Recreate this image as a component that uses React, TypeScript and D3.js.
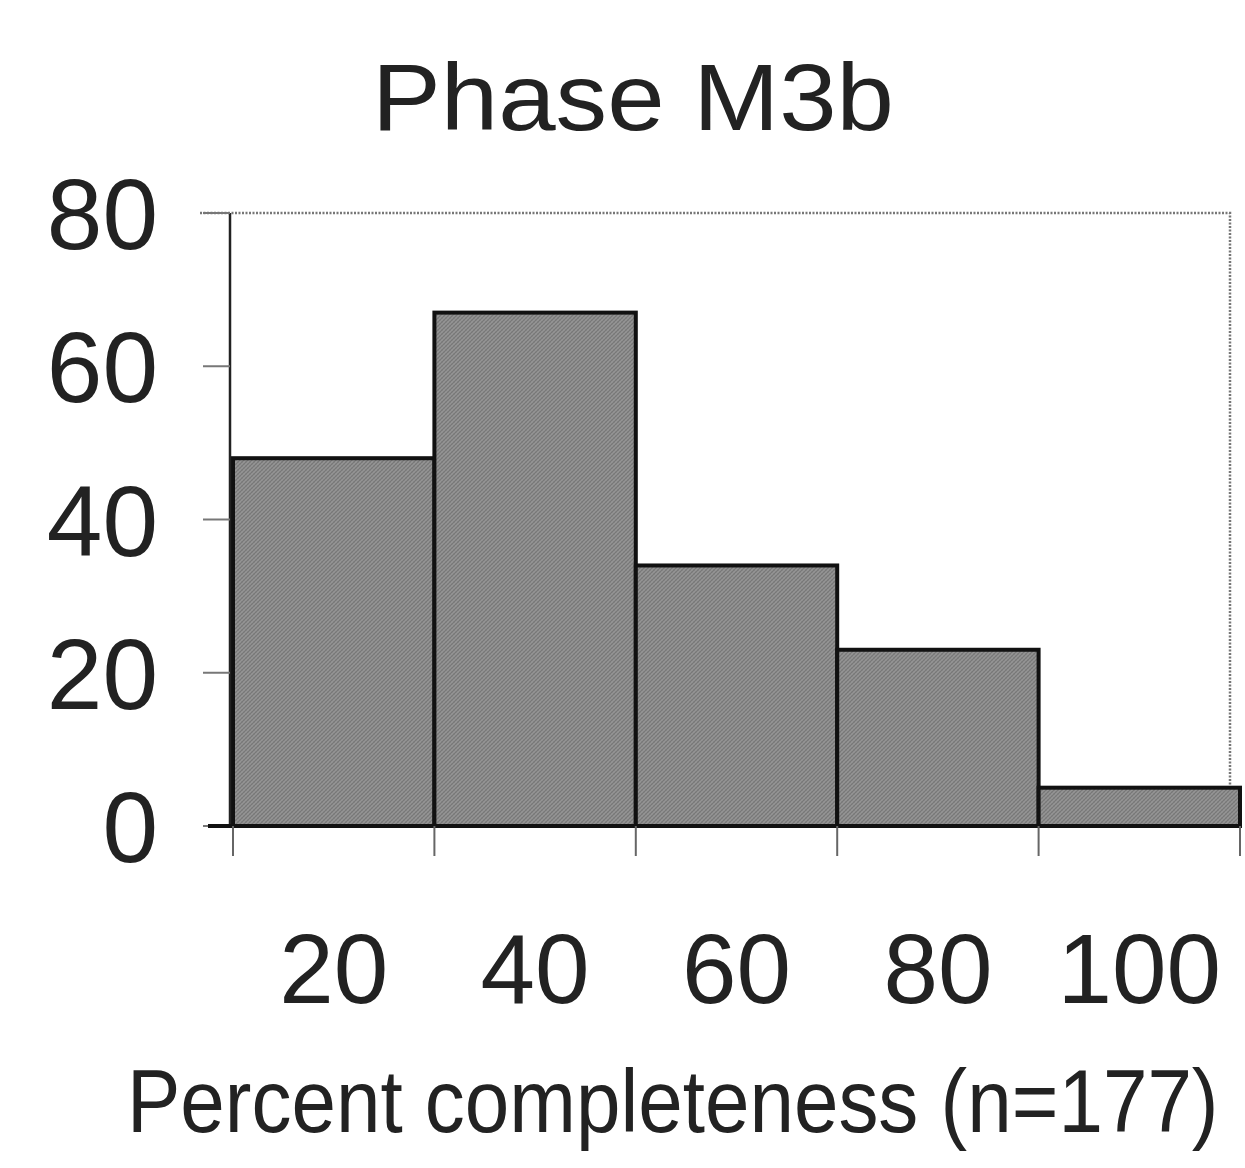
import * as d3 from "d3";
import { useEffect, useRef } from "react";

// data
const binLabels = ["20", "40", "60", "80", "100"];
const counts = [48, 67, 34, 23, 5];
const yTicks = [0, 20, 40, 60, 80];
const titleText = "Phase M3b";
const xTitle = "Percent completeness (n=177)";

const W = 1245;
const H = 1168;

const App = () => {
  const chartRef = useRef<SVGSVGElement>(null);

  // plot area
  const margin = { top: 213, bottom: H - 826, left: 230, right: W - 1230 };

  useEffect(() => {
    const svg = d3.select(chartRef.current);
    svg.selectAll("*").remove();

    const font = "'Liberation Sans', Arial, sans-serif";

    // x as bin index, bars are wider than the frame on the right side
    const scaleX = d3.scaleLinear().domain([0, binLabels.length]).range([233, 1240]);
    const scaleY = d3.scaleLinear().domain([0, 80]).range([H - margin.bottom, margin.top]);

    // crosshatch fill like the scanned bars
    const defs = svg.append("defs");
    const pat = defs
      .append("pattern")
      .attr("id", "hatch")
      .attr("patternUnits", "userSpaceOnUse")
      .attr("width", 4)
      .attr("height", 4);
    pat.append("rect").attr("width", 4).attr("height", 4).attr("fill", "#959595");
    pat.append("path").attr("d", "M0,4 L4,0").attr("stroke", "#777").attr("stroke-width", 1.2);
    pat.append("path").attr("d", "M0,0 L4,4").attr("stroke", "#838383").attr("stroke-width", 0.8);

    svg.append("rect").attr("width", W).attr("height", H).attr("fill", "#fff");

    // frame: dotted grey top and right
    svg
      .append("path")
      .attr("d", `M200,${margin.top} H${W - margin.right} V${H - margin.bottom}`)
      .attr("fill", "none")
      .attr("stroke", "#777")
      .attr("stroke-width", 2.5)
      .attr("stroke-dasharray", "2,1.5");

    // bars
    svg
      .selectAll(".bar")
      .data(counts)
      .enter()
      .append("rect")
      .attr("x", (d, i) => scaleX(i))
      .attr("y", (d) => scaleY(d))
      .attr("width", (d, i) => scaleX(i + 1) - scaleX(i))
      .attr("height", (d) => scaleY(0) - scaleY(d))
      .attr("fill", "url(#hatch)")
      .attr("stroke", "#111")
      .attr("stroke-width", 4);

    // y axis
    svg
      .append("line")
      .attr("x1", margin.left)
      .attr("x2", margin.left)
      .attr("y1", margin.top)
      .attr("y2", scaleY(0))
      .attr("stroke", "#222")
      .attr("stroke-width", 2.5);
    svg
      .selectAll(".ytick")
      .data(yTicks)
      .enter()
      .append("line")
      .attr("x1", 203)
      .attr("x2", margin.left)
      .attr("y1", (d) => scaleY(d))
      .attr("y2", (d) => scaleY(d))
      .attr("stroke", "#777")
      .attr("stroke-width", 2);
    svg
      .selectAll(".ylab")
      .data(yTicks)
      .enter()
      .append("text")
      .attr("x", 158)
      .attr("y", (d) => scaleY(d) + 36)
      .attr("text-anchor", "end")
      .style("font-family", font)
      .style("font-size", "100px")
      .attr("fill", "#222")
      .text((d) => d);

    // x axis
    svg
      .append("line")
      .attr("x1", 208)
      .attr("x2", 1240)
      .attr("y1", scaleY(0))
      .attr("y2", scaleY(0))
      .attr("stroke", "#111")
      .attr("stroke-width", 4);
    svg
      .selectAll(".xtick")
      .data(d3.range(binLabels.length + 1))
      .enter()
      .append("line")
      .attr("x1", (d) => scaleX(d))
      .attr("x2", (d) => scaleX(d))
      .attr("y1", scaleY(0))
      .attr("y2", scaleY(0) + 30)
      .attr("stroke", "#666")
      .attr("stroke-width", 2);
    svg
      .selectAll(".xlab")
      .data(binLabels)
      .enter()
      .append("text")
      .attr("x", (d, i) => (scaleX(i) + scaleX(i + 1)) / 2)
      .attr("y", 1003)
      .attr("text-anchor", "middle")
      .style("font-family", font)
      .style("font-size", "98px")
      .attr("fill", "#222")
      .text((d) => d);

    // titles
    svg
      .append("text")
      .attr("x", 372)
      .attr("y", 130)
      .attr("textLength", 522)
      .attr("lengthAdjust", "spacingAndGlyphs")
      .style("font-family", font)
      .style("font-size", "94px")
      .attr("fill", "#222")
      .text(titleText);
    // x title: a bit taller than wide, scaled vertically
    svg
      .append("text")
      .attr("transform", "translate(127,1132) scale(1,1.1)")
      .style("font-family", font)
      .style("font-size", "80px")
      .attr("fill", "#222")
      .text(xTitle);
  }, []);

  return (
    <svg
      ref={chartRef}
      width={W}
      height={H}
      style={{ position: "absolute", left: 0, top: 0, display: "block" }}
    ></svg>
  );
};

export default App;
